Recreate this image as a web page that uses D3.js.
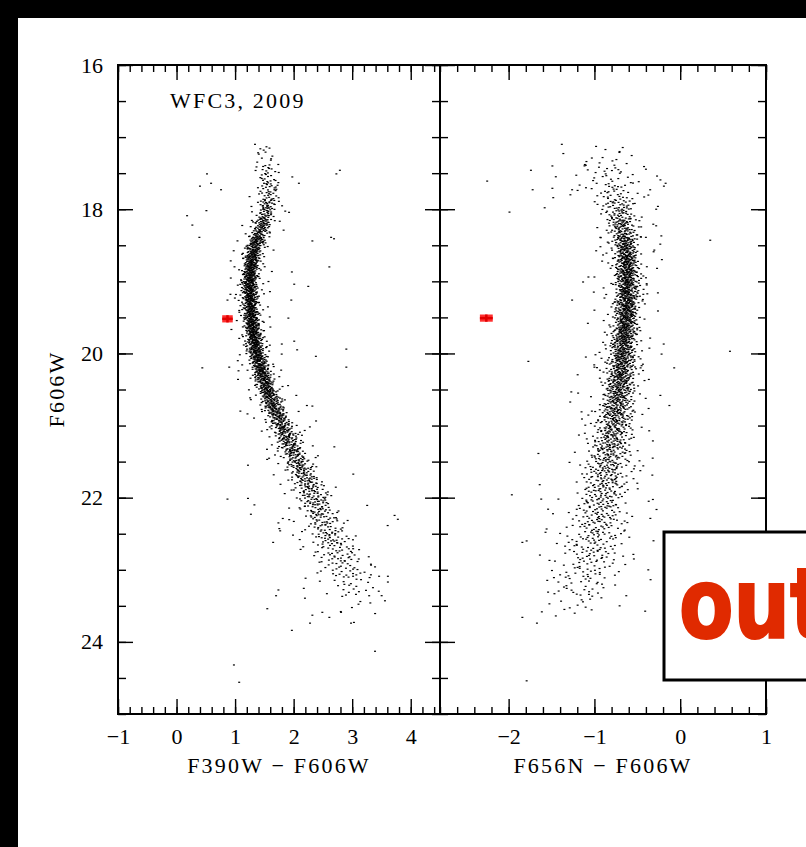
<!DOCTYPE html>
<html>
<head>
<meta charset="utf-8">
<script src="https://cdn.jsdelivr.net/npm/d3@7"></script>
<style>
  html, body { margin: 0; padding: 0; background: #fff; }
  svg { display: block; }
  .axis text { font-family: "Liberation Serif", "DejaVu Serif", serif; font-size: 22px; fill: #000; }
  .axis .domain { display: none; }
  .axis line { stroke: #000; stroke-width: 1.4; }
  .lbl { font-family: "Liberation Serif", "DejaVu Serif", serif; font-size: 22px; fill: #000; letter-spacing: 2.2px; }
</style>
</head>
<body>
<div id="chart"></div>
<script>
// ridge line of each cluster sequence, read per 0.25 mag bin
const binMag = [17.25, 17.5, 17.75, 18, 18.25, 18.5, 18.75, 19, 19.25, 19.5, 19.75, 20, 20.25,
  20.5, 20.75, 21, 21.25, 21.5, 21.75, 22, 22.25, 22.5, 22.75, 23, 23.25, 23.5];

const leftRidge = [1.52, 1.55, 1.58, 1.55, 1.45, 1.34, 1.28, 1.25, 1.26, 1.28, 1.32, 1.37, 1.45,
  1.55, 1.66, 1.80, 1.93, 2.06, 2.21, 2.35, 2.46, 2.58, 2.74, 2.88, 2.98, 3.05];
const leftWidth = [.10, .10, .09, .08, .075, .07, .065, .065, .065, .065, .068, .07, .075,
  .08, .09, .10, .105, .115, .125, .145, .165, .185, .205, .225, .24, .25];
const leftCount = [12, 28, 40, 65, 95, 130, 150, 155, 155, 155, 155, 150, 145,
  135, 125, 110, 100, 90, 80, 72, 65, 58, 50, 40, 24, 6];

const rightRidge = [-0.82, -0.82, -0.77, -0.71, -0.67, -0.64, -0.62, -0.62, -0.62, -0.63, -0.65, -0.67, -0.69,
  -0.71, -0.74, -0.77, -0.81, -0.84, -0.87, -0.90, -0.94, -0.98, -1.02, -1.06, -1.11, -1.16];
const rightWidth = [.20, .18, .14, .10, .08, .07, .065, .065, .065, .065, .07, .075, .08,
  .085, .095, .105, .115, .125, .135, .145, .155, .165, .175, .185, .19, .20];
const rightCount = [12, 28, 40, 65, 95, 130, 150, 155, 155, 155, 155, 150, 145,
  135, 125, 110, 100, 90, 80, 72, 65, 58, 50, 40, 28, 14];

// isolated field stars
const leftFieldC = [1.34, 2.79, 2.73, 2.09, 0.52, 0.59, 0.40, 0.76, 0.18, 0.27, 0.51, 0.39, 2.32, 2.64, 2.69,
  2.61, 2.25, 2.01, 1.97, 1.96, 1.91, 2.01, 2.06, 2.38, 2.90, 2.90, 0.44, 0.90, 1.05, 2.32, 1.09, 0.92, 0.87,
  0.87, 1.22, 1.22, 1.33, 1.27, 3.78, 1.65, 1.74, 1.77, 1.55, 1.70, 1.74, 1.97, 2.28, 2.32, 2.49, 2.61, 2.81,
  2.98, 3.03, 3.31, 3.29, 3.56, 3.61, 3.61, 3.46, 3.32, 0.98, 1.07, 3.39];
const leftFieldM = [17.10, 17.46, 17.51, 17.64, 17.51, 17.64, 17.68, 17.73, 18.09, 18.22, 18.02, 18.39, 18.44, 18.39, 18.41,
  18.80, 19.07, 19.04, 18.87, 19.26, 19.51, 19.83, 19.95, 20.04, 19.94, 20.19, 20.20, 20.19, 20.36, 20.73, 20.80, 19.18, 19.26,
  22.02, 21.55, 22.01, 22.10, 22.23, 22.30, 22.62, 22.35, 22.46, 23.54, 23.36, 23.28, 23.84, 23.74, 23.63, 23.59, 23.66, 23.59,
  23.74, 23.73, 23.46, 23.36, 23.43, 23.17, 23.09, 23.09, 23.07, 24.32, 24.56, 24.13];

const rightFieldC = [-1.38, -1.03, -0.79, -1.74, -1.49, -1.10, -1.45, -1.72, -1.49, -1.26, -1.48, -1.58, -1.28, -0.27,
  -0.17, -0.19, -0.28, -0.42, -0.28, -0.22, -0.40, 0.35, -0.31, -0.27, -0.26, -0.39, -0.43, -0.93, -0.93, -0.91,
  -1.07, -1.00, -1.26, -1.00, -1.77, -1.00, -0.07, -0.45, -1.10, -1.19, -1.04, -1.15, -1.03, -1.62, -1.42, -1.54,
  -1.79, -1.84, -1.57, -1.46, -1.34, -1.40, -1.54, -1.42, -1.84, -1.67, -1.45, -1.35, -0.50, -0.56, -0.54, -0.53,
  -1.99, 0.58, -1.79, -2.25];
const rightFieldM = [17.10, 17.29, 17.33, 17.46, 17.40, 17.39, 17.55, 17.73, 17.71, 17.73, 17.84, 17.98, 17.80, 17.54,
  17.64, 17.68, 18.00, 17.83, 18.23, 18.37, 18.39, 18.43, 18.59, 18.82, 19.16, 19.05, 19.18, 18.39, 18.52, 18.72,
  18.94, 18.94, 19.26, 19.40, 20.11, 20.19, 20.20, 20.17, 20.05, 20.55, 20.60, 20.81, 20.80, 22.02, 22.02, 22.16,
  22.60, 22.62, 22.48, 22.88, 22.77, 23.07, 23.31, 23.17, 23.66, 23.74, 23.64, 23.55, 21.80, 22.26, 22.85, 21.56,
  18.04, 19.97, 24.54, 17.61];

// typical error bars (colour, magnitude)
const errColor = [0.87, -2.26];
const errMag = [19.52, 19.51];
const errDC = [0.09, 0.075];
const errDM = [0.05, 0.05];

const magMajor = [16, 18, 20, 22, 24];
const leftMajor = [-1, 0, 1, 2, 3, 4];
const rightMajor = [-2, -1, 0, 1];

const W = 806, H = 847;
const yTop = 65, yBot = 714;
const panels = [
  { x0: 118, x1: 440, dom: [-1, 4.5], major: leftMajor, ridge: leftRidge, width: leftWidth, count: leftCount,
    fc: leftFieldC, fm: leftFieldM, label: "F390W \u2212 F606W" },
  { x0: 440, x1: 766, dom: [-2.8, 1], major: rightMajor, ridge: rightRidge, width: rightWidth, count: rightCount,
    fc: rightFieldC, fm: rightFieldM, label: "F656N \u2212 F606W" }
];

const svg = d3.select("#chart").append("svg").attr("width", W).attr("height", H);
svg.append("rect").attr("width", W).attr("height", H).attr("fill", "#fff");

const y = d3.scaleLinear().domain([16, 25]).range([yTop, yBot]);

// low-discrepancy spread of a bin's stars around its ridge value
function halton(i, b) { let f = 1, r = 0; while (i > 0) { f /= b; r += f * (i % b); i = Math.floor(i / b); } return r; }
function probit(p) {
  const a = [-39.696830, 220.946098, -275.928510, 138.357751, -30.664798, 2.506628];
  const b = [-54.476098, 161.585836, -155.698979, 66.801311, -13.280681];
  const c = [-0.007784894, -0.32239645, -2.400758, -2.549732, 4.374664, 2.938163];
  const d = [0.007784695, 0.32246712, 2.445134, 3.754408];
  if (p < 0.02425) { const q = Math.sqrt(-2 * Math.log(p)); return (((((c[0]*q+c[1])*q+c[2])*q+c[3])*q+c[4])*q+c[5]) / ((((d[0]*q+d[1])*q+d[2])*q+d[3])*q+1); }
  if (p > 1 - 0.02425) { const q = Math.sqrt(-2 * Math.log(1 - p)); return -(((((c[0]*q+c[1])*q+c[2])*q+c[3])*q+c[4])*q+c[5]) / ((((d[0]*q+d[1])*q+d[2])*q+d[3])*q+1); }
  const q = p - 0.5, r = q * q;
  return (((((a[0]*r+a[1])*r+a[2])*r+a[3])*r+a[4])*r+a[5])*q / (((((b[0]*r+b[1])*r+b[2])*r+b[3])*r+b[4])*r+1);
}

panels.forEach((p, k) => {
  const x = d3.scaleLinear().domain(p.dom).range([p.x0, p.x1]);
  const ridgeAt = d3.scaleLinear().domain(binMag).range(p.ridge).clamp(true);
  const g = svg.append("g");
  g.append("defs").append("clipPath").attr("id", "clip" + k)
    .append("rect").attr("x", p.x0).attr("y", yTop).attr("width", p.x1 - p.x0).attr("height", yBot - yTop);

  const stars = [];
  binMag.forEach((m, j) => {
    const n = p.count[j];
    for (let i = 1; i <= n; i++) {
      const idx = i + j * 331 + k * 97;
      const tail = halton(idx, 5) < 0.13 ? 2.6 : 1;
      const mm = m + (halton(idx, 3) - 0.5) * 0.25;
      const cc = ridgeAt(mm) + p.width[j] * tail * probit(Math.min(0.999, Math.max(0.001, halton(idx, 2))));
      stars.push([cc, mm]);
    }
  });
  p.fc.forEach((c, i) => stars.push([c, p.fm[i]]));

  g.append("g").attr("clip-path", `url(#clip${k})`).selectAll("rect").data(stars).join("rect")
    .attr("x", d => x(d[0]) - 1).attr("y", d => y(d[1]) - 0.6)
    .attr("width", 2).attr("height", 1.2).attr("fill", "#000");

  // error bar marker
  const ex = x(errColor[k]), ey = y(errMag[k]);
  const hw = x(errColor[k] + errDC[k]) - ex, hh = y(errMag[k] + errDM[k]) - ey;
  g.append("rect").attr("x", ex - hw).attr("y", ey - hh).attr("width", 2 * hw).attr("height", 2 * hh)
    .attr("fill", "#ff3030");
  g.append("line").attr("x1", ex - hw).attr("x2", ex + hw).attr("y1", ey).attr("y2", ey)
    .attr("stroke", "#e00000").attr("stroke-width", 2.5);
  g.append("line").attr("x1", ex).attr("x2", ex).attr("y1", ey - hh).attr("y2", ey + hh)
    .attr("stroke", "#e00000").attr("stroke-width", 2.5);

  // minor and major ticks on all four sides, pointing inward
  const minorX = d3.range(Math.ceil(p.dom[0] * 5), Math.floor(p.dom[1] * 5) + 1).map(v => v / 5);
  const minorY = d3.range(32, 51).map(v => v / 2);
  g.append("g").attr("class", "axis").attr("transform", `translate(0,${yBot})`)
    .call(d3.axisBottom(x).tickValues(minorX).tickSize(-7).tickFormat(""));
  g.append("g").attr("class", "axis").attr("transform", `translate(0,${yBot})`)
    .call(d3.axisBottom(x).tickValues(p.major).tickSize(-15).tickPadding(14).tickFormat(d3.format("d")));
  g.append("g").attr("class", "axis").attr("transform", `translate(0,${yTop})`)
    .call(d3.axisTop(x).tickValues(minorX).tickSize(-7).tickFormat(""));
  g.append("g").attr("class", "axis").attr("transform", `translate(0,${yTop})`)
    .call(d3.axisTop(x).tickValues(p.major).tickSize(-15).tickFormat(""));
  [[p.x0, 1], [p.x1, -1]].forEach(([xx, dir], s) => {
    const ax = dir > 0 ? d3.axisLeft(y) : d3.axisRight(y);
    g.append("g").attr("class", "axis").attr("transform", `translate(${xx},0)`)
      .call(ax.tickValues(minorY).tickSize(-8).tickFormat(""));
    const maj = (dir > 0 ? d3.axisLeft(y) : d3.axisRight(y)).tickValues(magMajor).tickSize(-15);
    if (k === 0 && s === 0) maj.tickPadding(15).tickFormat(d3.format("d")); else maj.tickFormat("");
    g.append("g").attr("class", "axis").attr("transform", `translate(${xx},0)`).call(maj);
  });

  g.append("rect").attr("x", p.x0).attr("y", yTop).attr("width", p.x1 - p.x0).attr("height", yBot - yTop)
    .attr("fill", "none").attr("stroke", "#000").attr("stroke-width", 2);

  g.append("text").attr("class", "lbl").attr("x", (p.x0 + p.x1) / 2).attr("y", 773)
    .attr("text-anchor", "middle").text(p.label);
});

svg.append("text").attr("class", "lbl").attr("x", 170).attr("y", 108).text("WFC3, 2009");
svg.append("text").attr("class", "lbl").attr("transform", "translate(64,389) rotate(-90)")
  .attr("text-anchor", "middle").text("F606W");

// overlay box
svg.append("rect").attr("x", 664).attr("y", 532).attr("width", 160).attr("height", 148)
  .attr("fill", "#fff").attr("stroke", "#000").attr("stroke-width", 3);
svg.append("text").attr("transform", "translate(679,638) scale(0.9,1)")
  .attr("font-family", "'Liberation Sans Narrow', 'DejaVu Sans Condensed', 'Liberation Sans', sans-serif")
  .attr("font-weight", 700).attr("font-size", 98).attr("fill", "#e02a00")
  .attr("stroke", "#e02a00").attr("stroke-width", 2).text("out");

// black frame bands
svg.append("rect").attr("x", 0).attr("y", 0).attr("width", W).attr("height", 18).attr("fill", "#000");
svg.append("rect").attr("x", 0).attr("y", 0).attr("width", 18).attr("height", H).attr("fill", "#000");
</script>
</body>
</html>
